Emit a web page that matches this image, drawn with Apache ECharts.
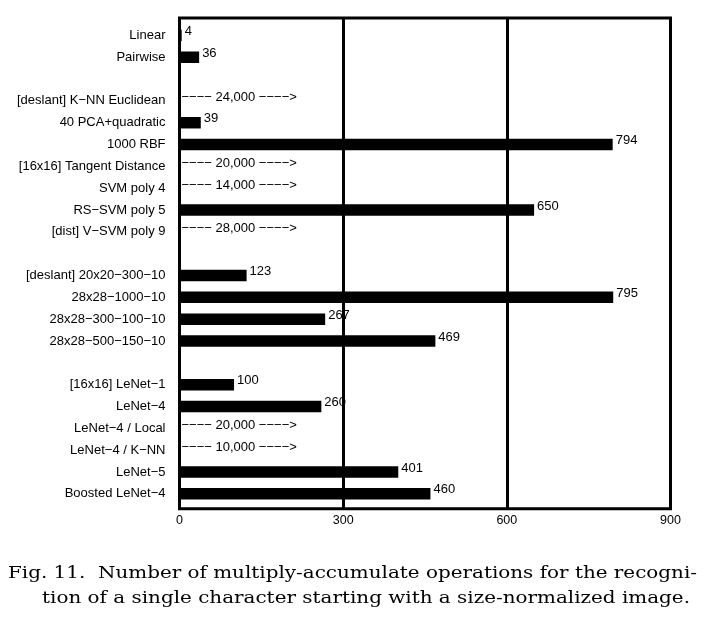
<!DOCTYPE html>
<html>
<head>
<meta charset="utf-8">
<script src="https://cdn.jsdelivr.net/npm/echarts@6/dist/echarts.min.js"></script>
<style>html,body{margin:0;padding:0;background:#fff}#c{width:709px;height:621px}</style>
</head>
<body>
<div id="c"></div>
<script>
const categories = [
  'Linear', 'Pairwise', ' ',
  '[deslant] K\u2212NN Euclidean', '40 PCA+quadratic', '1000 RBF',
  '[16x16] Tangent Distance', 'SVM poly 4', 'RS\u2212SVM poly 5', '[dist] V\u2212SVM poly 9', '  ',
  '[deslant] 20x20\u2212300\u221210', '28x28\u22121000\u221210', '28x28\u2212300\u2212100\u221210', '28x28\u2212500\u2212150\u221210', '   ',
  '[16x16] LeNet\u22121', 'LeNet\u22124', 'LeNet\u22124 / Local', 'LeNet\u22124 / K\u2212NN', 'LeNet\u22125', 'Boosted LeNet\u22124'
];
// thousands of multiply-accumulate operations (on-scale values)
const macs = [4, 36, null, null, 39, 794, null, null, 650, null, null, 123, 795, 267, 469, null, 100, 260, null, null, 401, 460];
// off-scale values, written as text only
const offscale = [null, null, null, 24000, null, null, 20000, 14000, null, 28000, null, null, null, null, null, null, null, null, 20000, 10000, null, null];
const xTicks = { min: 0, max: 900, interval: 300 };
const caption = [
  'Fig. 11.  Number of multiply-accumulate operations for the recogni-',
  'tion of a single character starting with a size-normalized image.'
];

const chart = echarts.init(document.getElementById('c'), null, { renderer: 'canvas' });
const sans = '"Liberation Sans", Arial, sans-serif';
const capFont = '17px "DejaVu Serif"';
const ctx = document.createElement('canvas').getContext('2d');
ctx.font = capFont;
const w1 = ctx.measureText(caption[0]).width;
const w2 = ctx.measureText(caption[1]).width;

const L = 179.5, R = 709 - 670.5;
chart.setOption({
  animation: false,
  backgroundColor: '#fff',
  grid: [
    { left: L, right: R, top: 18, bottom: 621 - 508.7, show: true, borderColor: '#000', borderWidth: 3, backgroundColor: 'transparent', z: 10 },
    { left: L, right: R, top: 24.5, bottom: 621 - 504.7 }
  ],
  xAxis: [
    {
      gridIndex: 0, type: 'value', min: xTicks.min, max: xTicks.max, interval: xTicks.interval, z: 10,
      axisLine: { show: false }, axisTick: { show: false },
      splitLine: { show: true, lineStyle: { color: '#000', width: 3 } },
      axisLabel: { color: '#000', fontFamily: sans, fontSize: 12.5, margin: 5 }
    },
    {
      gridIndex: 1, type: 'value', min: xTicks.min, max: xTicks.max, interval: xTicks.interval,
      axisLine: { show: false }, axisTick: { show: false }, splitLine: { show: false }, axisLabel: { show: false }
    }
  ],
  yAxis: [
    { gridIndex: 0, type: 'value', show: false, splitLine: { show: false } },
    {
      gridIndex: 1, type: 'category', data: categories, inverse: true,
      axisLine: { show: false }, axisTick: { show: false },
      axisLabel: { color: '#000', fontFamily: sans, fontSize: 13, margin: 14, padding: [0, 0, 7, 0], interval: 0 }
    }
  ],
  series: [
    {
      type: 'bar', xAxisIndex: 1, yAxisIndex: 1, data: macs, barWidth: 11.5,
      itemStyle: { color: '#000' },
      label: { show: true, position: 'right', distance: 3, offset: [0, -4], color: '#000', fontFamily: sans, fontSize: 13, formatter: '{c}' }
    },
    {
      type: 'bar', xAxisIndex: 1, yAxisIndex: 1, barGap: '-100%', barWidth: 11.5,
      data: offscale.map(v => v == null ? null : 0),
      itemStyle: { color: 'transparent' },
      label: {
        show: true, position: 'right', distance: 2, offset: [0, -3], color: '#000', fontFamily: sans, fontSize: 13,
        formatter: p => '\u2212\u2212\u2212\u2212 ' + offscale[p.dataIndex].toLocaleString('en-US') + ' \u2212\u2212\u2212\u2212>'
      }
    }
  ],
  graphic: [
    { type: 'text', x: 8, y: 574, scaleX: 689 / w1, style: { text: caption[0], font: capFont, fill: '#000', align: 'left', verticalAlign: 'middle' } },
    { type: 'text', x: 42, y: 599, scaleX: 648 / w2, style: { text: caption[1], font: capFont, fill: '#000', align: 'left', verticalAlign: 'middle' } }
  ]
});
</script>
</body>
</html>
